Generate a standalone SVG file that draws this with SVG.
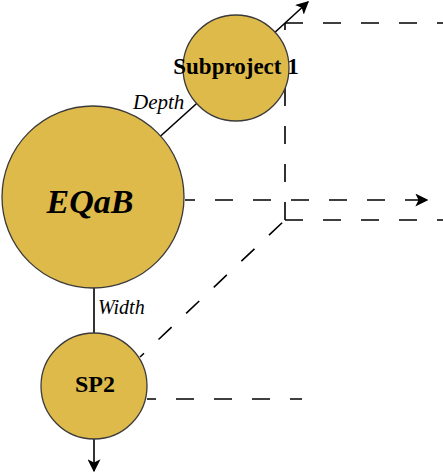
<svg xmlns="http://www.w3.org/2000/svg" width="443" height="473" viewBox="0 0 443 473">
<style>
.node{fill:#DEBA4B;stroke:#3a3a3a;stroke-width:1.3}
.solid{stroke:#000;stroke-width:1.6;fill:none}
.dash{stroke:#000;stroke-width:1.6;fill:none;stroke-dasharray:18 20}
.lbl{font-family:"Liberation Serif",serif;font-weight:bold;text-anchor:middle;fill:#000}
.edge{font-family:"Liberation Serif",serif;font-style:italic;fill:#000}
</style>
<defs>
<marker id="ah" viewBox="0 0 10 10" refX="9" refY="5" markerWidth="13" markerHeight="13" markerUnits="userSpaceOnUse" orient="auto">
<path d="M0,0 L10,5 L0,10 L2.5,5 z" fill="#000"/>
</marker>
</defs>
<g id="connectors">
<line class="solid" x1="93" y1="197" x2="236" y2="68"/>
<line class="solid" x1="236" y1="68" x2="308" y2="2" marker-end="url(#ah)"/>
<line class="solid" x1="94" y1="288" x2="94" y2="333"/>
<line class="solid" x1="94" y1="439" x2="94" y2="471" marker-end="url(#ah)"/>
<line class="dash" x1="285" y1="23" x2="443" y2="23"/>
<line class="dash" x1="285" y1="23" x2="285" y2="220" stroke-dashoffset="11"/>
<line class="dash" x1="185" y1="200" x2="427" y2="200" stroke-dashoffset="8" marker-end="url(#ah)"/>
<line class="dash" x1="285" y1="220" x2="443" y2="220"/>
<line class="dash" x1="285" y1="220" x2="140" y2="357" stroke-dashoffset="-4"/>
<line class="dash" x1="147" y1="399" x2="302" y2="399" stroke-dashoffset="9"/>
<text class="edge" x="133" y="109" font-size="21">Depth</text>
<text class="edge" x="98" y="314" font-size="20">Width</text>
</g>
<g id="eqab">
<circle class="node" cx="93" cy="197" r="91"/>
<text class="lbl" x="90" y="213" font-size="34" font-style="italic">EQaB</text>
</g>
<g id="subproject1">
<circle class="node" cx="236" cy="68" r="53"/>
<text class="lbl" x="236" y="74" font-size="23">Subproject 1</text>
</g>
<g id="sp2">
<circle class="node" cx="94" cy="386" r="53"/>
<text class="lbl" x="95" y="392" font-size="24">SP2</text>
</g>
</svg>
